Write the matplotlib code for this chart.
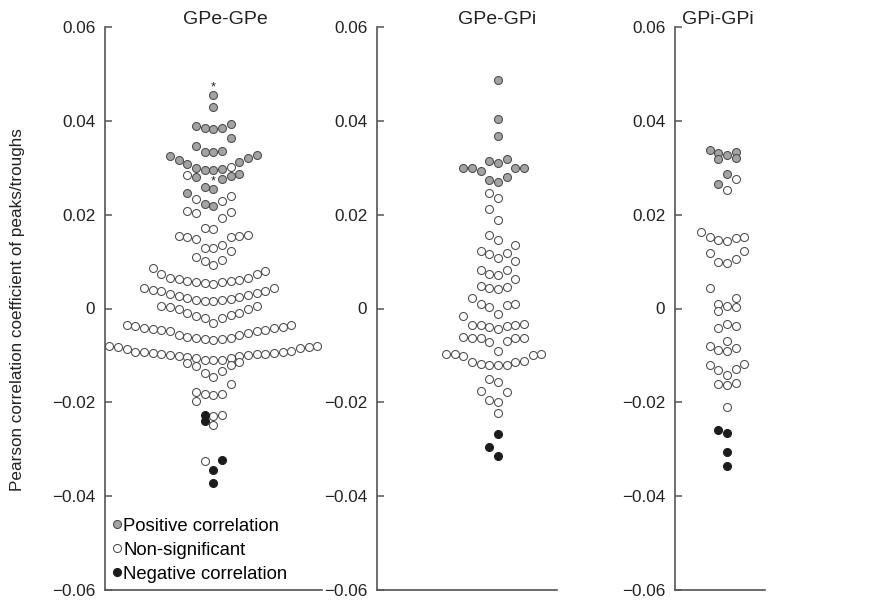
import numpy as np
import matplotlib
matplotlib.use("Agg")
import matplotlib.pyplot as plt
from matplotlib.lines import Line2D

plt.rcParams['font.family'] = ['Liberation Sans', 'DejaVu Sans']

titles = ["GPe-GPe", "GPe-GPi", "GPi-GPi"]

# ---------------- data (Pearson r of peaks/troughs) ----------------
gpe_gpe_pos = [0.0455, 0.043, 0.0393, 0.039, 0.0385, 0.0384, 0.0382, 0.0364,
               0.0347, 0.0336, 0.0334, 0.0333, 0.0327, 0.0324, 0.0321, 0.0316,
               0.0313, 0.0309, 0.0299, 0.0297, 0.0296, 0.0296, 0.0287, 0.0282,
               0.0281, 0.0277, 0.0259, 0.0255, 0.0247, 0.0223, 0.0219]
gpe_gpe_ns = [0.0301, 0.0284, 0.024, 0.0234, 0.023,
              0.0169, 0.0171, 0.0192, 0.0204, 0.0205, 0.0207,
              0.0129, 0.0129, 0.0135, 0.0148, 0.0153, 0.0153, 0.0155, 0.0155, 0.0157,
              0.0093, 0.0101, 0.0104, 0.0109, 0.0123,
              0.0052, 0.0055, 0.0057, 0.0057, 0.0059, 0.0059, 0.0061, 0.0062, 0.0064,
              0.0065, 0.0074, 0.0074, 0.0079, 0.0087,
              0.0015, 0.0016, 0.0019, 0.0019, 0.0021, 0.0023, 0.0025, 0.0026, 0.0028,
              0.003, 0.0033, 0.0037, 0.0038, 0.004, 0.0043, 0.0043,
              -0.003, -0.002, -0.002, -0.0015, -0.0014, -0.0009, -0.0009, -0.0002,
              0.0, 0.0004, 0.0005, 0.0005,
              -0.0067, -0.0066, -0.0064, -0.0063, -0.0062, -0.006, -0.0056, -0.0056,
              -0.0052, -0.0048, -0.0047, -0.0046, -0.0045, -0.0043, -0.0042, -0.0042,
              -0.0039, -0.0038, -0.0036, -0.0036,
              -0.011, -0.0109, -0.0109, -0.0106, -0.0106, -0.0104, -0.0101, -0.0101,
              -0.0099, -0.0099, -0.0097, -0.0096, -0.0096, -0.0094, -0.0094, -0.0093,
              -0.0093, -0.0093, -0.009, -0.0087, -0.0085, -0.0083, -0.0083, -0.008,
              -0.0079,
              -0.0145, -0.0138, -0.0134, -0.0123, -0.012, -0.0116, -0.0113,
              -0.0184, -0.0183, -0.0182, -0.0177, -0.016,
              -0.023, -0.0227, -0.0197, -0.0248, -0.0325]
gpe_gpe_neg = [-0.0228, -0.024, -0.0323, -0.0344, -0.0372]
gpe_gpe_star = [0.0455, 0.0255]

gpe_gpi_pos = [0.0486, 0.0404, 0.0367, 0.0318, 0.0314, 0.0311, 0.03, 0.0299,
               0.0299, 0.0299, 0.0294, 0.028, 0.0274, 0.0269]
gpe_gpi_ns = [0.0247, 0.0235, 0.0213, 0.0188, 0.0157, 0.0147, 0.0136, 0.0122,
              0.0118, 0.0116, 0.0108, 0.0101, 0.0082, 0.0082, 0.0074, 0.0071,
              0.0062, 0.0049, 0.0046, 0.0043, 0.0042, 0.0022, 0.0009, 0.0009,
              0.0008, 0.0004, -0.0011, -0.0015, -0.0032, -0.0035, -0.0035, -0.0036,
              -0.0037, -0.0039, -0.0043, -0.006, -0.0062, -0.0062, -0.0063, -0.0063,
              -0.007, -0.0072, -0.0091, -0.0096, -0.0097, -0.0098, -0.0099, -0.0101,
              -0.0111, -0.0114, -0.0114, -0.0118, -0.012, -0.0121, -0.0121, -0.015,
              -0.0157, -0.0176, -0.0179, -0.0194, -0.0199, -0.0223]
gpe_gpi_neg = [-0.0268, -0.0296, -0.0314]
gpe_gpi_star = []

gpi_gpi_pos = [0.0328, 0.0332, 0.0334, 0.0338, 0.0286, 0.0318, 0.032, 0.0265]
gpi_gpi_ns = [0.0252, 0.0275,
              0.0143, 0.0146, 0.015, 0.0152, 0.0153, 0.0163,
              0.0097, 0.01, 0.0106, 0.0118, 0.0122,
              0.0006, 0.001, 0.0022, 0.0043,
              -0.0032, -0.0005, 0.0003,
              -0.007, -0.0042, -0.0037,
              -0.009, -0.0088, -0.0085, -0.008,
              -0.0142, -0.0132, -0.0128, -0.012, -0.0118,
              -0.0163, -0.016, -0.0158,
              -0.021]
gpi_gpi_neg = [-0.0265, -0.026, -0.0305, -0.0335]
gpi_gpi_star = []

yticks = [-0.06, -0.04, -0.02, 0, 0.02, 0.04, 0.06]
ytick_labels = ["\u22120.06", "\u22120.04", "\u22120.02", "0", "0.02", "0.04", "0.06"]
legend_labels = ["Positive correlation", "Non-significant", "Negative correlation"]
ylabel = "Pearson correlation coefficient of peaks/troughs"

# ---------------- layout ----------------
W, H = 883, 602
fig = plt.figure(figsize=(W / 100, H / 100), dpi=100)
# left, right, swarm centre, title centre (pixels)
panels_px = [(105, 322, 213.3, 225), (377, 557, 498, 497), (675, 765, 727, 718)]
top_px, bot_px = 27, 590
ylim = (-0.06, 0.06)
BIN_W = 0.004      # value bin used to spread the points sideways
SLOT = 8.67        # horizontal spacing between neighbours (px)

GREY = '#a3a3a3'
EDGE = '#4a4a4a'
BLACK = '#1c1c1c'
SPINE = '#555555'


def spread(values):
    """Bin values, then lay the members of each bin out sideways:
    lowest in the centre, then alternately left / right."""
    v = np.asarray(values, dtype=float)
    b = np.floor((v - v.min()) / BIN_W + 0.5 + 1e-9).astype(int)
    slots = np.zeros(len(v))
    for k in np.unique(b):
        idx = np.where(b == k)[0]
        idx = idx[np.argsort(v[idx], kind='stable')]
        for n, i in enumerate(idx):
            slots[i] = ((n + 1) // 2) * (-1 if n % 2 == 1 else 1)
    return slots


datasets = [(gpe_gpe_pos, gpe_gpe_ns, gpe_gpe_neg, gpe_gpe_star),
            (gpe_gpi_pos, gpe_gpi_ns, gpe_gpi_neg, gpe_gpi_star),
            (gpi_gpi_pos, gpi_gpi_ns, gpi_gpi_neg, gpi_gpi_star)]
styles = [dict(facecolor=GREY, edgecolor=EDGE),
          dict(facecolor='white', edgecolor=EDGE),
          dict(facecolor=BLACK, edgecolor=BLACK)]

axes = []
for k, ((l, r, c, tc), (pos, ns, neg, star)) in enumerate(zip(panels_px, datasets)):
    ax = fig.add_axes([l / W, 1 - bot_px / H, (r - l) / W, (bot_px - top_px) / H])
    axes.append(ax)
    vals = np.array(list(pos) + list(ns) + list(neg))
    cats = np.array([0] * len(pos) + [1] * len(ns) + [2] * len(neg))
    xs = spread(vals) * SLOT
    for ci in range(3):
        m = cats == ci
        ax.scatter(xs[m], vals[m], s=33, linewidths=0.75, zorder=3, clip_on=False, **styles[ci])
    for sv in star:
        idx = np.argmin(np.abs(vals - sv) + (cats != 0) * 1.0)
        ax.text(xs[idx], vals[idx] + 0.0016, "*", ha='center', va='center',
                fontsize=9, color='#222222')
    ax.set_xlim(l - c, r - c)
    ax.set_ylim(*ylim)
    ax.set_yticks(yticks)
    ax.set_yticklabels(ytick_labels)
    ax.set_xticks([])
    for s in ['top', 'right']:
        ax.spines[s].set_visible(False)
    for s in ['left', 'bottom']:
        ax.spines[s].set_color(SPINE)
        ax.spines[s].set_linewidth(1.2)
    ax.tick_params(axis='y', direction='in', length=5, width=1.1, color=SPINE,
                   labelsize=12.3, pad=7, labelcolor='#222222')
    fig.text(tc / W, 1 - 19 / H, titles[k], ha='center', va='center', fontsize=14,
             color='#222222')

fig.text(18 / W, 1 - 310 / H, ylabel, rotation=90, ha='center', va='center',
         fontsize=12.3, color='#222222')

handles = [Line2D([], [], linestyle='none', marker='o', markersize=5.8,
                  markerfacecolor=st['facecolor'], markeredgecolor=st['edgecolor'],
                  markeredgewidth=0.75) for st in styles]
axes[0].legend(handles, legend_labels, loc='lower left', bbox_to_anchor=(0.0, 0.0),
               frameon=False, fontsize=13.3, handlelength=0.5, handletextpad=0.1,
               borderpad=0.2, labelspacing=0.37, borderaxespad=0.2)

fig.savefig('out.png', dpi=100)
